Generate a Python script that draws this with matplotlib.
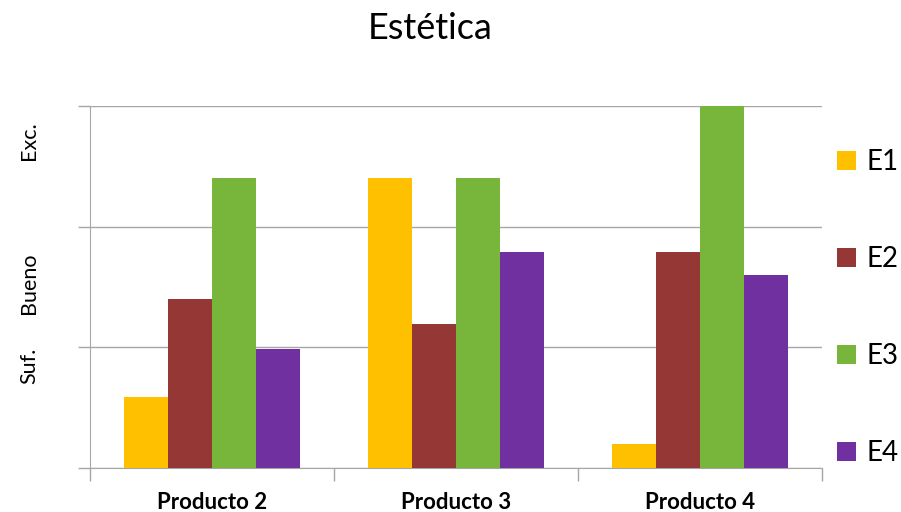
import numpy as np
import matplotlib.pyplot as plt

# data (0 = baseline, 1 = Suf., 2 = Bueno, 3 = Exc.)
productos = ["Producto 2", "Producto 3", "Producto 4"]
series = ["E1", "E2", "E3", "E4"]
e1 = [0.59, 2.40, 0.20]
e2 = [1.40, 1.19, 1.79]
e3 = [2.40, 2.40, 3.00]
e4 = [0.99, 1.79, 1.60]
colores = ["#FFC000", "#953735", "#77B63A", "#7030A0"]
niveles = ["Suf.", "Bueno", "Exc."]
nivel_pos = [0.85, 1.53, 2.71]

fig = plt.figure(figsize=(9.01, 5.12), dpi=100)
ax = fig.add_axes([0.0999, 0.0859, 0.8125, 0.7070])

x = np.arange(len(productos))
w = 0.18
for i, (vals, name) in enumerate(zip([e1, e2, e3, e4], series)):
    ax.bar(x + (i - 1.5) * w, vals, w, color=colores[i], label=name, zorder=3)

ax.set_xlim(-0.5, 2.5)
ax.set_ylim(0, 3)

# gridlines + axis lines
ax.set_yticks([0, 1, 2, 3])
ax.set_yticklabels([])
ax.yaxis.grid(True, color="#a6a6a6", linewidth=1.0, zorder=0)
ax.tick_params(axis="y", length=9, color="#a6a6a6", width=1.0)
for s in ["top", "right"]:
    ax.spines[s].set_visible(False)
ax.spines["left"].set_color("#a6a6a6")
ax.spines["bottom"].set_color("#a6a6a6")

ax.set_xticks(x)
ax.set_xticklabels(productos, fontsize=16, fontweight="bold", family="Lato")
ax.tick_params(axis="x", length=0, pad=17)
ax.set_xticks([-0.5, 0.5, 1.5, 2.5], minor=True)
ax.tick_params(axis="x", which="minor", length=9, color="#a6a6a6", width=1.0)

for lab, pos in zip(niveles, nivel_pos):
    ax.text(-0.083, pos, lab, transform=ax.get_yaxis_transform(), rotation=90,
            ha="center", va="center", fontsize=15.5, family="Lato")

fig.text(0.478, 0.945, "Estética", ha="center", va="center", fontsize=26,
         family="Lato")

leg = ax.legend(loc="upper left", bbox_to_anchor=(0.982, 0.957), frameon=False,
                handlelength=0.68, handleheight=0.68,
                labelspacing=2.55, handletextpad=0.4, borderaxespad=0.6,
                prop={"family": "Lato", "size": 20})

fig.savefig("out.png", dpi=100)
